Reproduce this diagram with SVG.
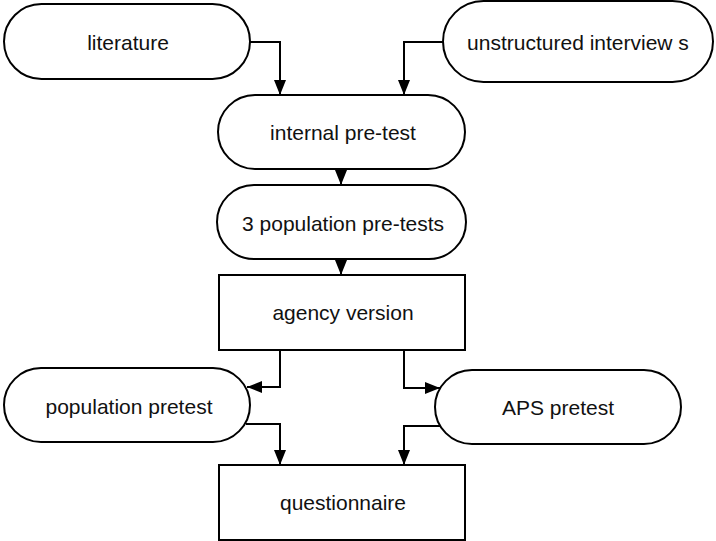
<svg xmlns="http://www.w3.org/2000/svg" width="716" height="541" viewBox="0 0 716 541">
  <style>
    .shape { fill: #ffffff; stroke: #000000; stroke-width: 2; }
    .label { font-family: "Liberation Sans", Arial, sans-serif; font-size: 21px; fill: #111111; text-anchor: middle; dominant-baseline: central; }
    .link { fill: none; stroke: #000000; stroke-width: 2; }
  </style>
  <defs>
    <marker id="arrow" viewBox="0 0 15 12" refX="15" refY="6" markerWidth="15" markerHeight="12" markerUnits="userSpaceOnUse" orient="auto">
      <path d="M0,0 L15,6 L0,12 Z" fill="#000000"/>
    </marker>
  </defs>

  <g id="connectors">
    <path class="link" d="M250,42 H280 V95" marker-end="url(#arrow)"/>
    <path class="link" d="M443,42 H404 V95" marker-end="url(#arrow)"/>
    <path class="link" d="M341,169 V185" marker-end="url(#arrow)"/>
    <path class="link" d="M341,259 V275" marker-end="url(#arrow)"/>
    <path class="link" d="M280,350 V387 H247" marker-end="url(#arrow)"/>
    <path class="link" d="M404,350 V388 H440" marker-end="url(#arrow)"/>
    <path class="link" d="M246,424 H280 V465" marker-end="url(#arrow)"/>
    <path class="link" d="M440,426 H404 V465" marker-end="url(#arrow)"/>
  </g>

  <g id="literature">
    <rect class="shape" x="4" y="4" width="246" height="75" rx="37.5" ry="37.5"/>
    <text class="label" x="128" y="42">literature</text>
  </g>
  <g id="unstructured-interviews">
    <rect class="shape" x="443" y="1" width="270" height="81" rx="40.5" ry="40.5"/>
    <text class="label" x="578" y="42">unstructured interview s</text>
  </g>
  <g id="internal-pretest">
    <rect class="shape" x="218" y="95" width="247" height="74" rx="37" ry="37"/>
    <text class="label" x="343" y="132">internal pre-test</text>
  </g>
  <g id="population-pretests">
    <rect class="shape" x="217" y="185" width="249" height="74" rx="37" ry="37"/>
    <text class="label" x="343" y="223">3 population pre-tests</text>
  </g>
  <g id="agency-version">
    <rect class="shape" x="219" y="275" width="246" height="75"/>
    <text class="label" x="343" y="312">agency version</text>
  </g>
  <g id="population-pretest">
    <rect class="shape" x="4" y="368" width="246" height="74" rx="37" ry="37"/>
    <text class="label" x="129" y="406">population pretest</text>
  </g>
  <g id="aps-pretest">
    <rect class="shape" x="435" y="370" width="246" height="74" rx="37" ry="37"/>
    <text class="label" x="558" y="407">APS pretest</text>
  </g>
  <g id="questionnaire">
    <rect class="shape" x="219" y="465" width="246" height="75"/>
    <text class="label" x="343" y="502">questionnaire</text>
  </g>
</svg>
